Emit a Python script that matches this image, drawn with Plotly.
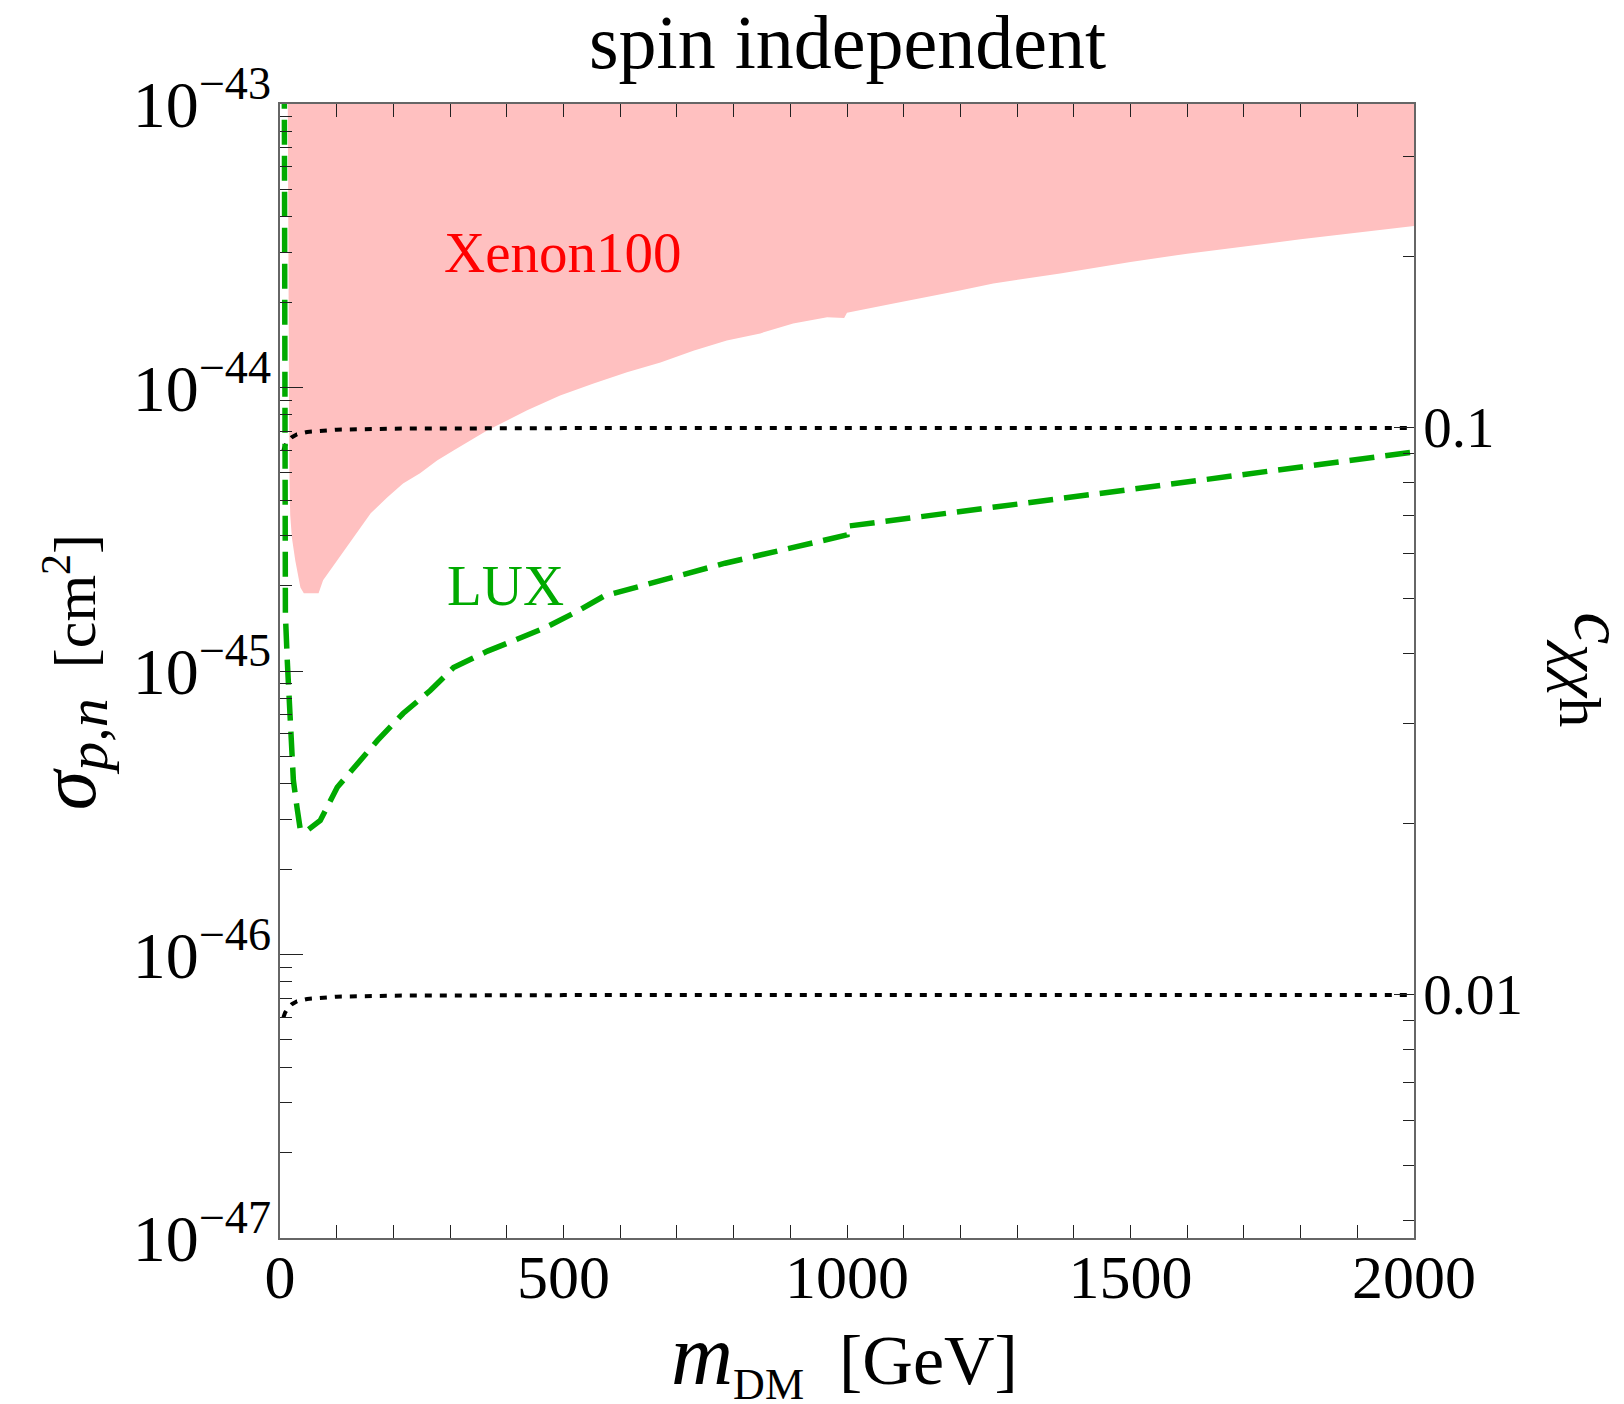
import plotly.graph_objects as go
import math

# ---------------- data ----------------
# Xenon100 exclusion: lower boundary of the excluded (pink) region
xenon_mass = [13.5, 15, 16.5, 18, 21, 27, 36, 42, 68, 76, 101, 130, 160, 189, 217, 247,
              277, 306, 336, 366, 436, 494, 553, 612, 671, 729, 788, 847, 905, 965,
              995, 1000, 1082, 1141, 1199, 1258, 1317, 1376, 1500, 1600, 1800, 2000]
xenon_sigma = [1.26e-43, 1.58e-44, 5.0e-45, 3.55e-45, 2.95e-45, 2.45e-45, 1.97e-45, 1.88e-45,
               1.88e-45, 2.09e-45, 2.45e-45, 2.96e-45, 3.60e-45, 4.09e-45, 4.59e-45, 4.98e-45,
               5.53e-45, 6.00e-45, 6.52e-45, 7.06e-45, 8.32e-45, 9.37e-45, 1.033e-44, 1.132e-44,
               1.225e-44, 1.349e-44, 1.466e-44, 1.552e-44, 1.683e-44, 1.770e-44,
               1.758e-44, 1.837e-44, 1.977e-44, 2.080e-44, 2.198e-44, 2.328e-44, 2.427e-44,
               2.523e-44, 2.773e-44, 2.965e-44, 3.334e-44, 3.715e-44]
xenon_ceiling = 1e-42

# LUX limit (green dashed)
lux_mass = [7.5, 8.0, 9.5, 13, 18.3, 23.6, 30, 36, 48, 71, 101, 136, 172, 217, 265, 306,
            366, 465, 524, 572, 785, 1000, 1000, 1500, 2000]
lux_sigma = [1.58e-43, 1.0e-44, 1.58e-45, 1.07e-45, 6.17e-46, 4.11e-46, 3.30e-46, 2.74e-46,
             2.74e-46, 2.97e-46, 3.89e-46, 4.72e-46, 5.69e-46, 7.08e-46, 8.53e-46, 1.028e-45,
             1.175e-45, 1.413e-45, 1.622e-45, 1.841e-45, 2.40e-45, 3.02e-45, 3.24e-45,
             4.37e-45, 5.92e-45]

# model predictions for fixed coupling c_{chi chi h} (black dotted)
model_mass = [6, 9, 14, 21, 30, 48, 100, 200, 500, 2000]
sigma_c01 = [6.00e-45, 6.24e-45, 6.46e-45, 6.68e-45, 6.84e-45, 6.97e-45, 7.10e-45,
             7.16e-45, 7.19e-45, 7.19e-45]
sigma_c001 = [6.00e-47, 6.24e-47, 6.46e-47, 6.68e-47, 6.84e-47, 6.97e-47, 7.10e-47,
              7.16e-47, 7.19e-47, 7.19e-47]

# axes
x_range = [0, 2000]
x_major = [0, 500, 1000, 1500, 2000]
x_minor = [100, 200, 300, 400, 600, 700, 800, 900, 1100, 1200, 1300, 1400,
           1600, 1700, 1800, 1900]
sigma_range = [1e-47, 1e-43]
sigma_major = [1e-47, 1e-46, 1e-45, 1e-44, 1e-43]
sigma_major_text = ["10<sup>\u221247</sup>", "10<sup>\u221246</sup>", "10<sup>\u221245</sup>",
                    "10<sup>\u221244</sup>", "10<sup>\u221243</sup>"]
sigma_minor = [k * 10.0 ** e for e in range(-47, -43) for k in range(2, 10)]
c_range = [0.003719, 0.3719]
c_major = [0.01, 0.1]
c_major_text = ["0.01", "0.1"]
c_minor = [0.004, 0.005, 0.006, 0.007, 0.008, 0.009,
           0.02, 0.03, 0.04, 0.05, 0.06, 0.07, 0.08, 0.09, 0.2, 0.3]

# ---------------- figure ----------------
FONT = "Liberation Serif"
PINK = "rgb(255,192,192)"
GREEN = "rgb(0,170,0)"
AXC = "#666666"
TKC = "#222222"

fig = go.Figure()

# Xenon100 region: boundary then back along a ceiling above the plot
poly_x = xenon_mass + [xenon_mass[-1], xenon_mass[0]]
poly_y = xenon_sigma + [xenon_ceiling, xenon_ceiling]
fig.add_trace(go.Scatter(x=poly_x, y=poly_y, mode="lines", fill="toself",
                         fillcolor=PINK, line=dict(width=0, color=PINK),
                         hoverinfo="skip", showlegend=False))

fig.add_trace(go.Scatter(x=model_mass, y=sigma_c01, mode="lines",
                         line=dict(color="black", width=4, dash="7px,8px"),
                         showlegend=False))
fig.add_trace(go.Scatter(x=model_mass, y=sigma_c001, mode="lines",
                         line=dict(color="black", width=4, dash="7px,8px"),
                         showlegend=False))
fig.add_trace(go.Scatter(x=lux_mass, y=lux_sigma, mode="lines",
                         line=dict(color=GREEN, width=5.5, dash="25px,11px"),
                         showlegend=False))

# invisible trace to anchor the right-hand coupling axis
fig.add_trace(go.Scatter(x=[1000], y=[0.1], yaxis="y2", mode="markers",
                         marker=dict(opacity=0), hoverinfo="skip", showlegend=False))

tickfont = dict(family=FONT, size=62, color="black")

fig.update_layout(
    width=1624, height=1404,
    margin=dict(l=280, r=210, t=104, b=166),
    paper_bgcolor="white", plot_bgcolor="white",
    font=dict(family=FONT, color="black"),
    xaxis=dict(range=x_range, showgrid=False, zeroline=False,
               showline=True, linecolor=AXC, linewidth=1.5, mirror="allticks",
               ticks="inside", tickmode="array", tickvals=x_major,
               ticklen=13, tickwidth=1.3, tickcolor=TKC,
               minor=dict(tickmode="array", tickvals=x_minor,
                          ticks="inside", ticklen=7, tickwidth=1.2, tickcolor=TKC,
                          showgrid=False),
               tickfont=tickfont, ticklabelstandoff=-16),
    yaxis=dict(type="log", range=[math.log10(sigma_range[0]), math.log10(sigma_range[1])],
               showgrid=False, zeroline=False, showline=True, linecolor=AXC, linewidth=1.5,
               mirror=False, ticks="inside", tickmode="array", tickvals=sigma_major,
               ticktext=sigma_major_text, ticklen=23, tickwidth=1.3, tickcolor=TKC,
               minor=dict(tickmode="array", tickvals=sigma_minor, ticks="inside",
                          ticklen=12, tickwidth=1.2, tickcolor=TKC, showgrid=False),
               tickfont=dict(family=FONT, size=66, color="black"), ticklabelstandoff=-6),
    yaxis2=dict(type="log", overlaying="y", side="right",
                range=[math.log10(c_range[0]), math.log10(c_range[1])],
                showgrid=False, zeroline=False, showline=True, linecolor=AXC, linewidth=1.5,
                ticks="inside", tickmode="array", tickvals=c_major, ticktext=c_major_text,
                ticklen=20, tickwidth=1.3, tickcolor=TKC,
                minor=dict(tickmode="array", tickvals=c_minor, ticks="inside",
                           ticklen=11, tickwidth=1.2, tickcolor=TKC, showgrid=False),
                tickfont=dict(family=FONT, size=57, color="black"), ticklabelstandoff=-4),
)

ann = []
ann.append(dict(text="spin independent", xref="paper", yref="paper", x=0.5, y=1.055,
                xanchor="center", yanchor="middle", showarrow=False,
                font=dict(family=FONT, size=76, color="black")))
ann.append(dict(text="<span style='font-size:86px'><i>m</i></span>"
                     "<sub><span style='font-size:44px'>DM</span></sub>\u00a0\u00a0[GeV]",
                xref="paper", yref="paper",
                x=0.4974, y=-0.106, xanchor="center", yanchor="middle", showarrow=False,
                font=dict(family=FONT, size=70, color="black")))
ann.append(dict(text="<span style='font-size:80px'><i>σ</i></span>"
                     "<sub><span style='font-size:58px'><i>p,n</i></span></sub>"
                     "\u00a0\u00a0[cm<sup>2</sup>]",
                xref="paper", yref="paper", x=-0.1834, y=0.499, textangle=-90,
                xanchor="center", yanchor="middle", showarrow=False,
                font=dict(family=FONT, size=60, color="black")))
ann.append(dict(text="<span style='font-size:72px'><i>c</i></span>"
                     "<sub><span style='font-size:60px'><i>χχ</i>h</span></sub>",
                xref="paper", yref="paper",
                x=1.1575, y=0.5009, textangle=90, xanchor="center", yanchor="middle",
                showarrow=False, font=dict(family=FONT, size=70, color="black")))
ann.append(dict(text="Xenon100", xref="x", yref="y", x=498, y=math.log10(3.0e-44),
                xanchor="center", yanchor="middle", showarrow=False,
                font=dict(family=FONT, size=57, color="rgb(255,0,0)")))
ann.append(dict(text="LUX", xref="x", yref="y", x=398, y=math.log10(2.0e-45),
                xanchor="center", yanchor="middle", showarrow=False,
                font=dict(family=FONT, size=57, color=GREEN)))
fig.update_layout(annotations=ann)

fig.write_html("out.html")
